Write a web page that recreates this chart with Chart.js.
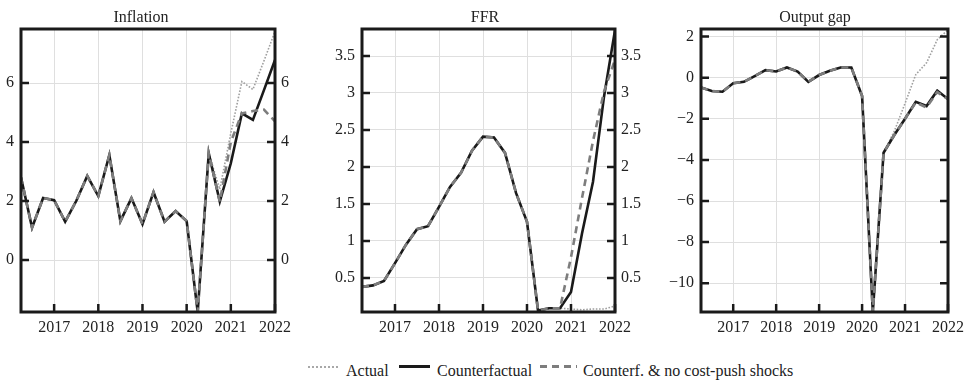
<!DOCTYPE html>
<html><head><meta charset="utf-8">
<script src="https://cdn.jsdelivr.net/npm/chart.js@4.4.1/dist/chart.umd.min.js"></script>
<style>
html,body{margin:0;padding:0;background:#fff;}
body{width:970px;height:384px;position:relative;overflow:hidden;font-family:"Liberation Serif","DejaVu Serif",serif;color:#222;}
canvas{position:absolute;top:0;}
.lg{position:absolute;font-size:16px;line-height:16px;white-space:nowrap;top:363px;color:#222;font-family:"Liberation Serif","DejaVu Serif",serif;}
.sm{position:absolute;}
</style></head><body>
<canvas id="c1" width="310" height="345" style="left:0px"></canvas>
<canvas id="c2" width="335" height="345" style="left:310px"></canvas>
<canvas id="c3" width="325" height="345" style="left:645px"></canvas>
<div id="legend"></div>
<script>
// ---- data ----
const quarters = ['2016Q2','2016Q3','2016Q4','2017Q1','2017Q2','2017Q3','2017Q4','2018Q1',
  '2018Q2','2018Q3','2018Q4','2019Q1','2019Q2','2019Q3','2019Q4','2020Q1',
  '2020Q2','2020Q3','2020Q4','2021Q1','2021Q2','2021Q3','2021Q4','2022Q1'];
const xTickYears = [2017, 2018, 2019, 2020, 2021, 2022];
const seriesNames = ['Actual', 'Counterfactual', 'Counterf. & no cost-push shocks'];
const panelTitles = ['Inflation', 'FFR', 'Output gap'];

const inflationTicks = [0, 2, 4, 6];
const ffrTicks = [0.5, 1, 1.5, 2, 2.5, 3, 3.5];
const outputGapTicks = [-10, -8, -6, -4, -2, 0, 2];

const inflationActual = [2.8,1.1,2.1,2.03,1.3,2.0,2.85,2.17,3.56,1.32,2.1,1.22,2.3,1.3,1.66,1.32,-1.76,3.62,2.4,4.3,6.05,5.78,6.75,7.75];
const inflationCf     = [2.8,1.1,2.1,2.03,1.3,2.0,2.85,2.17,3.56,1.32,2.1,1.22,2.3,1.3,1.66,1.32,-1.76,3.62,1.98,3.28,4.97,4.75,5.76,6.78];
const inflationCfNoCP = [2.8,1.1,2.1,2.03,1.3,2.0,2.85,2.17,3.56,1.32,2.1,1.22,2.3,1.3,1.66,1.32,-1.76,3.62,1.98,4.0,4.97,5.05,5.1,4.7];

const ffrActual = [0.38,0.40,0.46,0.70,0.95,1.16,1.20,1.46,1.73,1.92,2.22,2.41,2.40,2.19,1.65,1.26,0.06,0.09,0.09,0.08,0.07,0.08,0.08,0.12];
const ffrCf     = [0.38,0.40,0.46,0.70,0.95,1.16,1.20,1.46,1.73,1.92,2.22,2.41,2.40,2.19,1.65,1.26,0.06,0.09,0.09,0.31,1.10,1.80,2.95,3.85];
const ffrCfNoCP = [0.38,0.40,0.46,0.70,0.95,1.16,1.20,1.46,1.73,1.92,2.22,2.41,2.40,2.19,1.65,1.26,0.06,0.09,0.09,0.78,1.58,2.35,3.02,3.45];

const gapActual = [-0.47,-0.65,-0.68,-0.27,-0.2,0.08,0.37,0.3,0.5,0.3,-0.2,0.13,0.34,0.5,0.5,-0.89,-11.4,-3.65,-2.6,-1.25,0.15,0.72,1.85,2.33];
const gapCf     = [-0.47,-0.65,-0.68,-0.27,-0.2,0.08,0.37,0.3,0.5,0.3,-0.2,0.13,0.34,0.5,0.5,-0.89,-11.4,-3.65,-2.79,-2.0,-1.17,-1.38,-0.63,-1.04];
const gapCfNoCP = [-0.47,-0.65,-0.68,-0.27,-0.2,0.08,0.37,0.3,0.5,0.3,-0.2,0.13,0.34,0.5,0.5,-0.89,-11.4,-3.65,-2.79,-2.0,-1.2,-1.45,-0.7,-1.05];

// ---- styling ----
const FAMILY = '"Liberation Serif", "DejaVu Serif", serif';
const TICKFONT = {family: FAMILY, size: 16, style: 'normal', weight: 'normal', lineHeight: 1.2};
const GRID = '#dfdfdf';
const INK = '#1a1a1a';

const framePlugin = {
  id: 'frame',
  afterDatasetsDraw(chart, args, opts) {
    const {ctx, chartArea: a, scales} = chart;
    ctx.save();
    ctx.strokeStyle = INK;
    ctx.lineWidth = 2.5;
    const tl = 8;
    ctx.beginPath();
    scales.y.ticks.forEach(t => {
      const py = scales.y.getPixelForValue(t.value);
      ctx.moveTo(a.left, py); ctx.lineTo(a.left + tl, py);
      ctx.moveTo(a.right, py); ctx.lineTo(a.right - tl, py);
    });
    scales.x.ticks.forEach(t => {
      const px = scales.x.getPixelForValue(t.value);
      ctx.moveTo(px, a.bottom); ctx.lineTo(px, a.bottom - tl);
    });
    ctx.stroke();
    ctx.lineWidth = 3;
    ctx.strokeRect(a.left, a.top, a.right - a.left, a.bottom - a.top);
    ctx.fillStyle = '#222';
    ctx.font = '16px ' + FAMILY;
    ctx.textAlign = 'center';
    ctx.textBaseline = 'alphabetic';
    ctx.fillText(opts.text, (a.left + a.right) / 2 + opts.dx, 22);
    ctx.restore();
  }
};

const xs = quarters.map(q => +q.slice(0, 4) + (+q.slice(5) - 1) / 4);
const pts = arr => arr.map((v, i) => ({x: xs[i], y: v}));
const fmt = v => String(v).replace('-', '\u2212');

function makePanel(id, title, dx, yMin, yMax, yTicks, actual, cf, cfNoCP, leftW, rightW, rightLabels) {
  const yCommon = {
    type: 'linear', min: yMin, max: yMax,
    afterBuildTicks: s => { s.ticks = yTicks.map(v => ({value: v})); },
    border: {display: false},
  };
  const scales = {
    x: {
      type: 'linear', min: xs[0], max: xs[xs.length - 1],
      afterBuildTicks: s => { s.ticks = xTickYears.map(v => ({value: v})); },
      grid: {color: GRID, drawTicks: false, lineWidth: 1},
      border: {display: false},
      ticks: {padding: 6, callback: v => String(v), maxRotation: 0, autoSkip: false, font: TICKFONT, color: '#222'},
      afterFit: s => { s.height = 33; }
    },
    y: Object.assign({}, yCommon, {
      position: 'left',
      grid: {color: GRID, drawTicks: false, lineWidth: 1},
      ticks: {padding: 7, callback: fmt, autoSkip: false, font: TICKFONT, color: '#222'},
      afterFit: s => { s.width = leftW; }
    })
  };
  if (rightLabels) {
    scales.y2 = Object.assign({}, yCommon, {
      position: 'right',
      grid: {display: false, drawTicks: false},
      ticks: {padding: 6, callback: fmt, autoSkip: false, font: TICKFONT, color: '#222'},
      afterFit: s => { s.width = rightW; }
    });
  }
  return new Chart(document.getElementById(id), {
    type: 'line',
    data: {
      datasets: [
        {label: seriesNames[2], data: pts(cfNoCP), borderColor: '#7d7d7d', borderWidth: 2.6, borderDash: [7, 5], pointRadius: 0, tension: 0, fill: false},
        {label: seriesNames[1], data: pts(cf), borderColor: INK, borderWidth: 2.6, pointRadius: 0, tension: 0, fill: false},
        {label: seriesNames[0], data: pts(actual), borderColor: '#a0a0a0', borderWidth: 1.6, borderDash: [1.6, 1.6], pointRadius: 0, tension: 0, fill: false}
      ]
    },
    options: {
      responsive: false, animation: false,
      layout: {padding: {top: 29, bottom: 0, left: 0, right: rightLabels ? 0 : rightW}},
      scales,
      plugins: {legend: {display: false}, tooltip: {enabled: false}, title: {display: false}, frame: {text: title, dx: dx}}
    },
    plugins: [framePlugin]
  });
}

makePanel('c1', panelTitles[0], -7, -1.76, 7.83, inflationTicks, inflationActual, inflationCf, inflationCfNoCP, 21, 35, true);
makePanel('c2', panelTitles[1], -3.5, 0.04, 3.865, ffrTicks, ffrActual, ffrCf, ffrCfNoCP, 52, 30, true);
makePanel('c3', panelTitles[2], -9.5, -11.4, 2.37, outputGapTicks, gapActual, gapCf, gapCfNoCP, 56, 15, false);

// ---- legend ----
const lg = document.getElementById('legend');
const samples = [
  {left: 308, width: 30, css: 'top:366px;height:0;border-top:2px dotted #a8a8a8;'},
  {left: 399, width: 31, css: 'top:365px;height:3px;background:' + INK + ';'},
  {left: 540, width: 37, css: 'top:365px;height:3px;background:repeating-linear-gradient(to right,#7d7d7d 0 7px,transparent 7px 12px);'}
];
const textLeft = [346, 437, 583];
[0, 1, 2].forEach(i => {
  const s = document.createElement('div');
  s.className = 'sm';
  s.style.cssText = 'left:' + samples[i].left + 'px;width:' + samples[i].width + 'px;' + samples[i].css;
  lg.appendChild(s);
  const t = document.createElement('div');
  t.className = 'lg';
  t.style.left = textLeft[i] + 'px';
  t.textContent = seriesNames[i];
  lg.appendChild(t);
});
</script>
</body></html>
